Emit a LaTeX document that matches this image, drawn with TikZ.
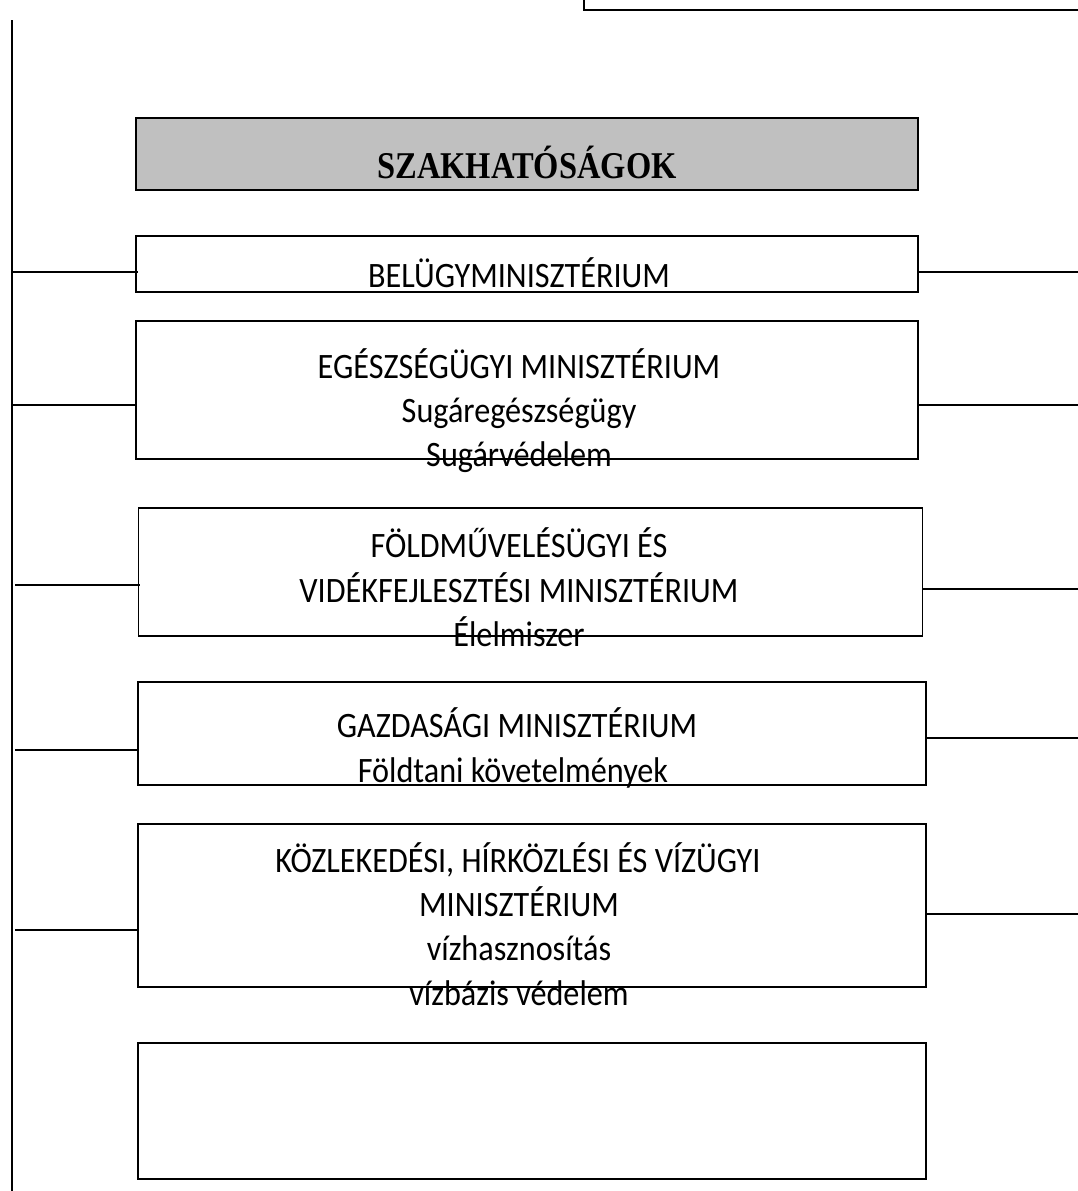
\documentclass[tikz,border=0pt]{standalone}
\usepackage{fontspec}
\setmainfont{Carlito}
\newfontfamily\hdrfont{Liberation Serif}
\newcommand{\tallt}[1]{\scalebox{1}[1.11]{#1}}
\newcommand{\hdrt}[1]{\scalebox{0.86}[1]{#1}}
\begin{document}
\begin{tikzpicture}[x=1pt,y=-1pt,
  boxst/.style={draw=black,line width=1.6pt,inner sep=0pt},
  conn/.style={draw=black,line width=1.5pt},
  txt/.style={anchor=base,inner sep=0pt,font=\fontsize{32.2}{38}\selectfont},
  hdr/.style={anchor=base,inner sep=0pt,font=\hdrfont\bfseries\fontsize{37.8}{42}\selectfont}]
\useasboundingbox (0,0) rectangle (1078,1191);
% top box (partially visible)
\draw[boxst] (584,-20) rectangle (1100,10);
% left vertical line
\coordinate (ltop) at (12,20);
\coordinate (lbot) at (12,1191);
\draw[line width=2.2pt] (ltop) -- (lbot);
% header
\node[boxst,fill={rgb,255:red,192;green,192;blue,192},minimum width=782pt,minimum height=72pt] (hb) at (527,154) {};
\node[hdr] (ht) at (527,178) {\hdrt{SZAKHATÓSÁGOK}};
% boxes
\node[boxst,minimum width=782pt,minimum height=56pt] (b1) at (527,264) {};
\node[boxst,minimum width=782pt,minimum height=138pt] (b2) at (527,390) {};
\node[boxst,minimum width=784pt,minimum height=128pt] (b3) at (530.5,572) {};
\node[boxst,minimum width=788pt,minimum height=103pt] (b4) at (532,733.5) {};
\node[boxst,minimum width=788pt,minimum height=163pt] (b5) at (532,905.5) {};
\node[boxst,minimum width=788pt,minimum height=136pt] (b6) at (532,1111) {};
% texts
\node[txt] (t1) at (519,287) {\tallt{BELÜGYMINISZTÉRIUM}};
\node[txt] (t2a) at (519,378) {\tallt{EGÉSZSÉGÜGYI MINISZTÉRIUM}};
\node[txt] (t2b) at (519,422) {\tallt{Sugáregészségügy}};
\node[txt] (t2c) at (519,466) {\tallt{Sugárvédelem}};
\node[txt] (t3a) at (519,557) {\tallt{FÖLDMŰVELÉSÜGYI ÉS}};
\node[txt] (t3b) at (519,602) {\tallt{VIDÉKFEJLESZTÉSI MINISZTÉRIUM}};
\node[txt] (t3c) at (519,646) {\tallt{Élelmiszer}};
\node[txt] (t4a) at (517,737) {\tallt{GAZDASÁGI MINISZTÉRIUM}};
\node[txt] (t4b) at (513,782) {\tallt{Földtani követelmények}};
\node[txt] (t5a) at (518,872) {\tallt{KÖZLEKEDÉSI, HÍRKÖZLÉSI ÉS VÍZÜGYI}};
\node[txt] (t5b) at (519,916) {\tallt{MINISZTÉRIUM}};
\node[txt] (t5c) at (519,960) {\tallt{vízhasznosítás}};
\node[txt] (t5d) at (519,1005) {\tallt{vízbázis védelem}};
% left connectors
\coordinate (l1) at (12,272);
\coordinate (l2) at (12,405);
\coordinate (l3) at (15,585);
\coordinate (l4) at (15,750);
\coordinate (l5) at (15,930);
\draw[conn] (l1) -- ([xshift=3pt]l1 -| b1.west);
\draw[conn] (l2) -- (l2 -| b2.west);
\draw[conn] (l3) -- ([xshift=2pt]l3 -| b3.west);
\draw[conn] (l4) -- ([xshift=2pt]l4 -| b4.west);
\draw[conn] (l5) -- ([xshift=2pt]l5 -| b5.west);
% right connectors
\coordinate (r1) at (1078,272);
\coordinate (r2) at (1078,405);
\coordinate (r3) at (1078,589);
\coordinate (r4) at (1078,738);
\coordinate (r5) at (1078,914);
\draw[conn] (r1 -| b1.east) -- (r1);
\draw[conn] (r2 -| b2.east) -- (r2);
\draw[conn] (r3 -| b3.east) -- (r3);
\draw[conn] (r4 -| b4.east) -- (r4);
\draw[conn] (r5 -| b5.east) -- (r5);
\end{tikzpicture}
\end{document}
